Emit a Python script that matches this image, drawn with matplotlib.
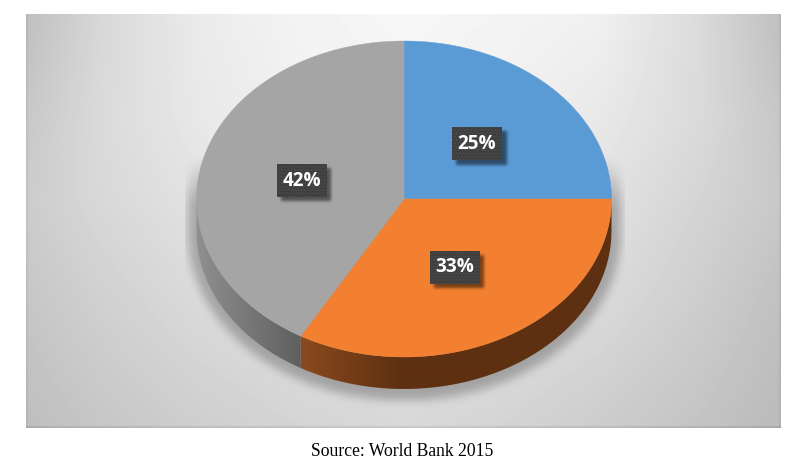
import numpy as np
import matplotlib
matplotlib.use('Agg')
import matplotlib.pyplot as plt
from matplotlib.patches import PathPatch, Rectangle
from matplotlib.path import Path

# chart data
labels = ['25%', '33%', '42%']
values = [25, 33.3, 41.7]
colors = ['#5b9bd5', '#f38031', '#a5a5a5']

# pie geometry, in image pixels
cx, cy = 404, 199
rx, ry = 207.5, 158
depth = 32
W, H = 807, 467
panel = (26, 781, 14, 428)
label_centers = [(477, 143.5), (454.5, 267), (301.5, 180)]
box_w, box_h = 50, 33

bg_x = [26, 100, 200, 300, 404, 500, 600, 700, 781]
bg_y = [14, 120, 200, 300, 428]
bg_levels = [[191, 215, 235, 243, 246, 244, 240, 218, 191],
             [200, 218, 232, 240, 244, 240, 232, 218, 198],
             [204, 216, 226, 232, 236, 232, 226, 212, 200],
             [198, 208, 218, 224, 226, 224, 218, 205, 192],
             [190, 198, 206, 212, 216, 212, 204, 195, 186]]

fig = plt.figure(figsize=(W / 100, H / 100), dpi=100)
ax = fig.add_axes([0, 0, 1, 1])
ax.set_xlim(0, W)
ax.set_ylim(H, 0)
ax.axis('off')


def blur(a, n, passes=3):
    # plain box blur, good enough for the soft shadows
    k = np.ones(n) / n
    for _ in range(passes):
        a = np.apply_along_axis(lambda r: np.convolve(r, k, mode='same'), 0, a)
        a = np.apply_along_axis(lambda r: np.convolve(r, k, mode='same'), 1, a)
    return a


def ell(t):
    # t is clockwise from 12 o'clock
    return cx + rx * np.sin(t), cy - ry * np.cos(t)


# panel background
x0, x1, y0, y1 = panel
yy, xx = np.mgrid[y0:y1, x0:x1]
rows = np.array([np.interp(np.arange(x0, x1), bg_x, r) for r in bg_levels])
bg = np.array([np.interp(np.arange(y0, y1), bg_y, rows[:, j]) for j in range(x1 - x0)]).T
bg = bg * (1 - 0.05 * (xx - x0 < 2)) * (1 - 0.05 * (x1 - xx <= 2))
bg[-2:, :] = bg[-2:, :] - 16

# pie shadow, a bit bigger than the pie and cut off by its own box as in the reference
# it fades out towards the top, the upper half of the pie has none
grow = 9
py, px = np.mgrid[y0 - 30:y1 + 30, x0 - 30:x1 + 30]
srx, sry = rx + grow, ry + grow
inside = (((px - cx) / srx) ** 2 + ((py - cy) / sry) ** 2 <= 1)
inside |= (((px - cx) / srx) ** 2 + ((py - cy - depth) / sry) ** 2 <= 1)
inside |= (np.abs(px - cx) <= srx) & (py >= cy) & (py <= cy + depth)
shadow = blur(inside.astype(float), 9)
shadow = np.roll(shadow, 2, axis=0)[30:-30, 30:-30]
shadow[(xx < 185) | (xx > 624)] = 0
shadow = shadow * np.clip((yy - 155) / 50.0, 0, 1)
bg = bg * (1 - 0.25 * shadow)
ax.imshow(bg, cmap='gray', vmin=0, vmax=255, extent=(x0, x1, y1, y0),
          aspect='auto', interpolation='nearest', zorder=1)

# slice angles
fracs = np.array(values) / sum(values)
edges = np.concatenate([[0], np.cumsum(fracs)]) * 2 * np.pi

# side wall, only the slices that reach the front half
side_stops = {1: ([301, 400, 612], ['#8a4a1d', '#5e3012', '#5e3012']),
              2: ([197, 301], ['#8f8f8f', '#5f5f5f'])}
for i, (xs, cols) in side_stops.items():
    a = max(edges[i], np.pi / 2)
    b = min(edges[i + 1], 3 * np.pi / 2)
    t = np.linspace(a, b, 200)
    ex, ey = ell(t)
    verts = np.vstack([np.c_[ex, ey], np.c_[ex[::-1], ey[::-1] + depth], [[ex[0], ey[0]]]])
    rgb = np.array([matplotlib.colors.to_rgb(c) for c in cols])
    grid = np.arange(int(ex.min()) - 1, int(ex.max()) + 2)
    img = np.stack([np.interp(grid, xs, rgb[:, k]) for k in range(3)], axis=1)[None, :, :]
    clip = PathPatch(Path(verts), transform=ax.transData, facecolor='none', edgecolor='none')
    ax.add_patch(clip)
    im = ax.imshow(img, extent=(grid[0], grid[-1] + 1, cy + depth + ry + 1, cy - 1),
                   aspect='auto', interpolation='bilinear', zorder=2)
    im.set_clip_path(clip)

# top of the pie
for i, c in enumerate(colors):
    t = np.linspace(edges[i], edges[i + 1], 200)
    ex, ey = ell(t)
    verts = np.vstack([[[cx, cy]], np.c_[ex, ey], [[cx, cy]]])
    ax.add_patch(PathPatch(Path(verts), facecolor=c, edgecolor=c, lw=0.3, zorder=3))

# data labels, dark dotted box with a soft shadow
for txt, (lx, ly) in zip(labels, label_centers):
    sy, sx = np.mgrid[int(ly - box_h):int(ly + box_h), int(lx - box_w):int(lx + box_w)]
    m = ((np.abs(sx - lx - 4) <= box_w / 2) & (np.abs(sy - ly - 4) <= box_h / 2)).astype(float)
    m = blur(m, 3)
    rgba = np.zeros(m.shape + (4,))
    rgba[..., 3] = 0.5 * m
    ax.imshow(rgba, extent=(sx.min(), sx.max() + 1, sy.max() + 1, sy.min()),
              aspect='auto', interpolation='bilinear', zorder=4)
    ax.add_patch(Rectangle((lx - box_w / 2, ly - box_h / 2), box_w, box_h, facecolor='#3e3e3e',
                           edgecolor='#4c4c4c', hatch='.....', lw=0, zorder=5))
    ax.text(lx, ly + 0.5, txt, color='white', fontsize=13.6, fontweight='bold', family='Open Sans',
            ha='center', va='center', zorder=6)

ax.set_xlim(0, W)
ax.set_ylim(H, 0)

ax.text(402.5, 451, 'Source: World Bank 2015', family='Liberation Serif', fontsize=12.7,
        color='black', ha='center', va='center')

fig.savefig('out.png', dpi=100)
